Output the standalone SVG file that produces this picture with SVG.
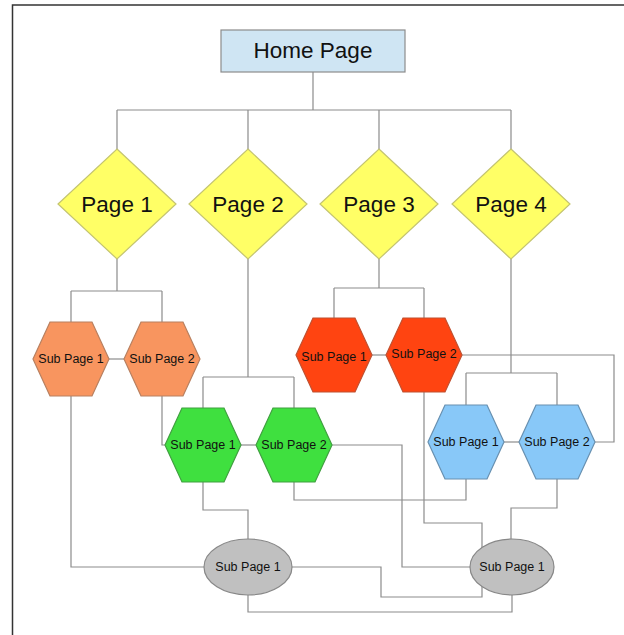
<svg xmlns="http://www.w3.org/2000/svg" xmlns:xlink="http://www.w3.org/1999/xlink" width="624" height="635" viewBox="0 0 624 635">
<style>
  .frame { stroke: #333; stroke-width: 1.5; fill: none; }
  .conn path { fill: none; stroke: #8c8c8c; stroke-width: 1.2; }
  .box { fill: #cfe5f3; stroke: #8c8c8c; stroke-width: 1.2; }
  .dia { fill: #ffff66; stroke: #c4c470; stroke-width: 1.2; }
  .orange { fill: #f8955f; stroke: #b88060; stroke-width: 1.2; }
  .red { fill: #ff4411; stroke: #c05030; stroke-width: 1.2; }
  .green { fill: #3fe03f; stroke: #40a040; stroke-width: 1.2; }
  .blue { fill: #88c8f8; stroke: #6890b0; stroke-width: 1.2; }
  .ell { fill: #c0c0c0; stroke: #888; stroke-width: 1.2; }
  text { font-family: "Liberation Sans", Arial, sans-serif; fill: #111; text-anchor: middle; dominant-baseline: central; }
  .big { font-size: 22.5px; }
  .small { font-size: 12.5px; }
</style>
<defs>
  <polygon id="hex" points="-38,0 -21,-37 21,-37 38,0 21,37 -21,37"/>
  <polygon id="dmd" points="0,-55 59,0 0,55 -59,0"/>
</defs>
<path class="frame" d="M12.5,635 V5 H624"/>
<g class="conn">
  <path d="M313,72 V110 M117,110 H511 M117,110 V149 M248,110 V149 M379,110 V149 M511,110 V149"/>
  <path d="M117,259 V291 M71,291 H162 M71,291 V322 M162,291 V322"/>
  <path d="M109,359 H124"/>
  <path d="M71,396 V567 H204"/>
  <path d="M162,396 V445 H165"/>
  <path d="M248,259 V377 M203,377 H294 M203,377 V408 M294,377 V408"/>
  <path d="M241,445 H256"/>
  <path d="M203,482 V510 H248 V540"/>
  <path d="M294,482 V500 H466 V478"/>
  <path d="M332,445 H402 V567 H470"/>
  <path d="M379,259 V288 M334,288 H424 M334,288 V318 M424,288 V318"/>
  <path d="M372,355 H386"/>
  <path d="M462,355 H614 V442 H595"/>
  <path d="M424,392 V523 H482 V549"/>
  <path d="M511,259 V373 M466,373 H557 M466,373 V405 M557,373 V405"/>
  <path d="M504,442 H519"/>
  <path d="M557,479 V508 H511 V540"/>
  <path d="M292,567 H381 V597 H482 V586"/>
  <path d="M248,595 V612 H512 V595"/>
</g>
<g id="home"><rect class="box" x="221" y="30" width="184" height="42"/><text class="big" x="313" y="50">Home Page</text></g>
<g id="page1"><use xlink:href="#dmd" href="#dmd" class="dia" x="117" y="204"/><text class="big" x="117" y="204">Page 1</text></g>
<g id="page2"><use xlink:href="#dmd" href="#dmd" class="dia" x="248" y="204"/><text class="big" x="248" y="204">Page 2</text></g>
<g id="page3"><use xlink:href="#dmd" href="#dmd" class="dia" x="379" y="204"/><text class="big" x="379" y="204">Page 3</text></g>
<g id="page4"><use xlink:href="#dmd" href="#dmd" class="dia" x="511" y="204"/><text class="big" x="511" y="204">Page 4</text></g>
<g id="p1sub1"><use xlink:href="#hex" href="#hex" class="orange" x="71" y="359"/><text class="small" x="71" y="359">Sub Page 1</text></g>
<g id="p1sub2"><use xlink:href="#hex" href="#hex" class="orange" x="162" y="359"/><text class="small" x="162" y="359">Sub Page 2</text></g>
<g id="p2sub1"><use xlink:href="#hex" href="#hex" class="green" x="203" y="445"/><text class="small" x="203" y="445">Sub Page 1</text></g>
<g id="p2sub2"><use xlink:href="#hex" href="#hex" class="green" x="294" y="445"/><text class="small" x="294" y="445">Sub Page 2</text></g>
<g id="p3sub1"><use xlink:href="#hex" href="#hex" class="red" x="334" y="355"/><text class="small" x="334" y="357">Sub Page 1</text></g>
<g id="p3sub2"><use xlink:href="#hex" href="#hex" class="red" x="424" y="355"/><text class="small" x="424" y="354">Sub Page 2</text></g>
<g id="p4sub1"><use xlink:href="#hex" href="#hex" class="blue" x="466" y="442"/><text class="small" x="466" y="442">Sub Page 1</text></g>
<g id="p4sub2"><use xlink:href="#hex" href="#hex" class="blue" x="557" y="442"/><text class="small" x="557" y="442">Sub Page 2</text></g>
<g id="shared1"><ellipse class="ell" cx="248" cy="567" rx="44" ry="28"/><text class="small" x="248" y="567">Sub Page 1</text></g>
<g id="shared2"><ellipse class="ell" cx="512" cy="567" rx="42" ry="28"/><text class="small" x="512" y="567">Sub Page 1</text></g>
</svg>
